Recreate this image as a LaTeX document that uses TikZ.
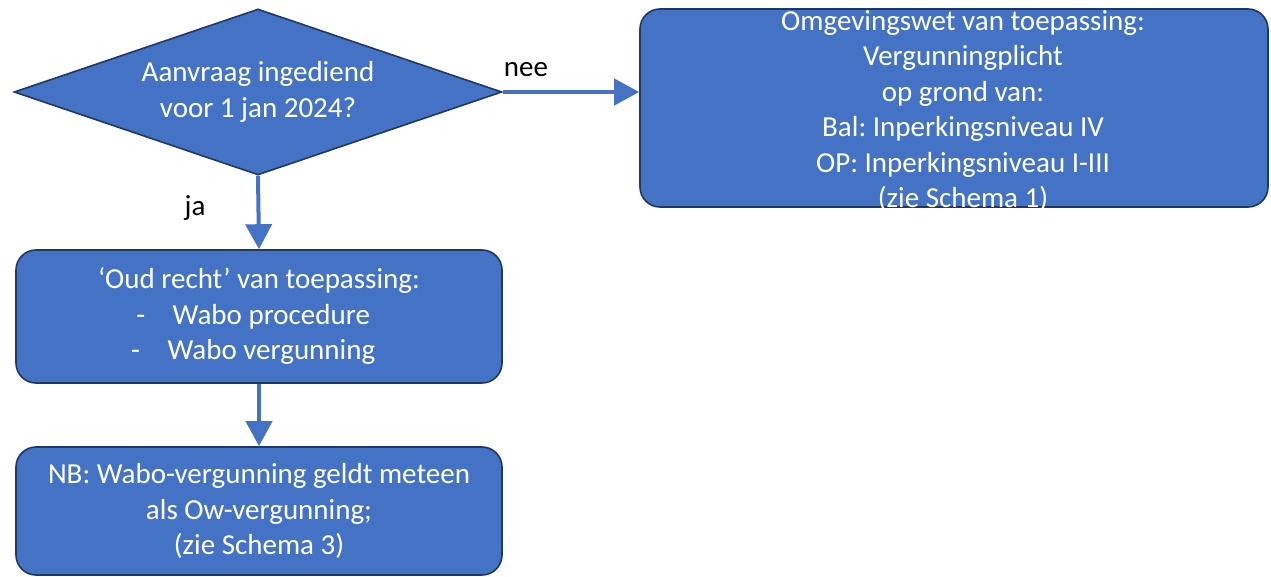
\documentclass[tikz,border=0pt]{standalone}
\usepackage{fontspec}
\setmainfont{Carlito}
\usetikzlibrary{shapes.geometric,arrows.meta}
\definecolor{boxblue}{HTML}{4472C4}
\definecolor{boxedge}{HTML}{1F3864}
\tikzset{
  flowbox/.style={draw=boxedge, line width=1.6pt, fill=boxblue, rounded corners=20pt, text=white, align=center, inner sep=0pt},
  decision/.style={diamond, draw=boxedge, line width=1.6pt, fill=boxblue, text=white, align=center, inner sep=0pt},
  flowarrow/.style={draw=boxblue, line width=4pt, -{Triangle[width=26pt,length=25pt]}},
  lbl/.style={text=black, inner sep=0pt}
}
\frenchspacing
\begin{document}
\begin{tikzpicture}[x=1pt,y=-1pt]
\useasboundingbox (0,0) rectangle (1271,577);
\fontsize{29pt}{35.5pt}\selectfont
\node[decision, minimum width=488pt, minimum height=166pt, aspect=2.94] (d) at (258,92) {Aanvraag ingediend\\voor 1 jan 2024?};
\node[flowbox, minimum width=486pt, minimum height=133pt] (b1) at (259,316.5) {\rule{0pt}{0pt}\raisebox{0pt}{}`Oud recht' van toepassing:\\\hspace*{-0.4em}-\hspace{0.95em}Wabo procedure\\\hspace*{-0.4em}-\hspace{0.95em}Wabo vergunning};
\node[flowbox, minimum width=486pt, minimum height=128pt] (b2) at (259,511) {NB: Wabo-vergunning geldt meteen\\als Ow-vergunning;\\(zie Schema 3)};
\node[flowbox, minimum width=628pt, minimum height=198pt] (rb) at (954,108) {};
\node[text=white, align=center, inner sep=0pt, anchor=north] (rt) at (963,10) {Omgevingswet van toepassing:\\Vergunningplicht\\op grond van:\\Bal: Inperkingsniveau IV\\OP: Inperkingsniveau I-III\\(zie Schema 1)};
\draw[flowarrow] (d.south) -- (b1.north);
\draw[flowarrow] (b1.south) -- (b2.north);
\draw[flowarrow] (d.east) -- (d.east -| rb.west);
\node[lbl] (ja) at (195,208) {ja};
\node[lbl] (nee) at (526,70) {nee};
\end{tikzpicture}
\end{document}
